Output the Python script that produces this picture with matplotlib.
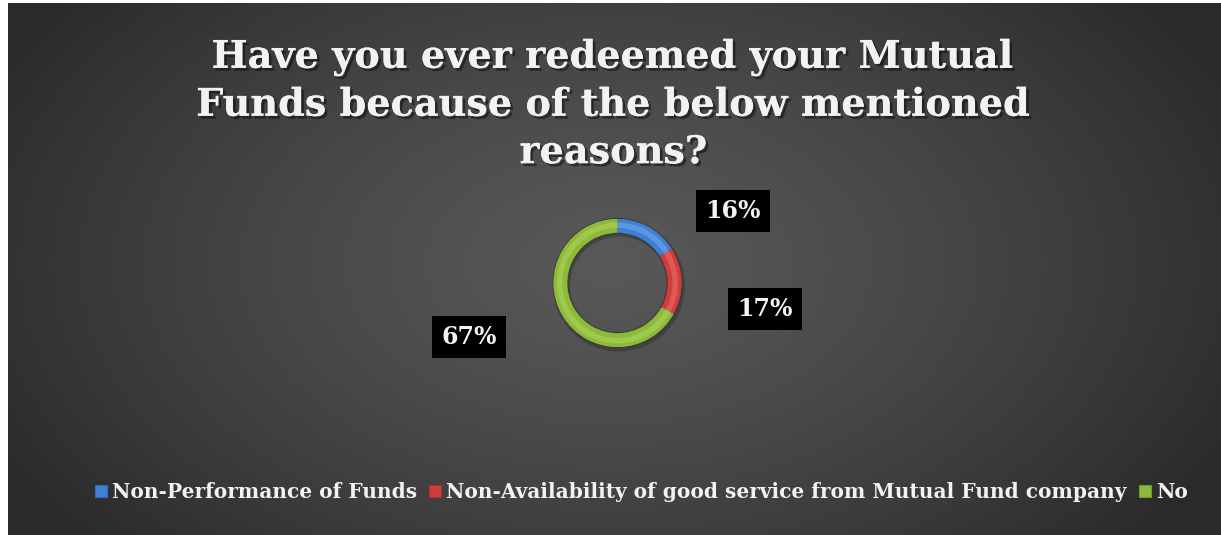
import numpy as np
import matplotlib.pyplot as plt
from matplotlib.patches import Patch
import matplotlib.patheffects as pe

# datos de la encuesta
categorias = ["Non-Performance of Funds",
              "Non-Availability of good service from Mutual Fund company",
              "No"]
valores = [16, 17, 67]
etiquetas = ["16%", "17%", "67%"]
titulo = "Have you ever redeemed your Mutual\nFunds because of the below mentioned\nreasons?"

colores = ["#3f80d4", "#d03e3c", "#8dba3b"]
colores_claros = ["#6ea8ee", "#ea6b67", "#add35a"]
colores_oscuros = ["#336db8", "#a8302e", "#739a2c"]

W, H = 1221, 535
fig = plt.figure(figsize=(W / 100, H / 100), dpi=100, facecolor="white")

# fondo con degradado radial
x0 = 8 / W
bg = fig.add_axes([x0, 0.0, 1 - x0, 1 - 3 / H])
bg.set_axis_off()
yy, xx = np.mgrid[0:532, 0:1213]
cx, cy = 600, 260
d = np.sqrt(((xx - cx) / 700.0) ** 2 + ((yy - cy) / 430.0) ** 2)
d = np.clip(d, 0, 1)
niv = 0.345 - (0.345 - 0.165) * d ** 1.3
img = np.dstack([niv, niv, niv])
bg.imshow(img, aspect="auto", extent=[0, 1, 0, 1], origin="upper")
bg.set_xlim(0, 1)
bg.set_ylim(0, 1)

sombra = [pe.withSimplePatchShadow(offset=(2, -2), shadow_rgbFace="black", alpha=0.45),
          pe.Normal()]
fig.text(0.5025, 1 - 105 / H, titulo, ha="center", va="center", color="#f2f2f2",
         fontsize=27.5, fontweight="bold", family="DejaVu Serif",
         linespacing=1.36, path_effects=sombra)

# anillo
cxp, cyp = 617.5, 283
ax = fig.add_axes([(cxp - 80) / W, 1 - (cyp + 80) / H, 160 / W, 160 / H])
ax.set_axis_off()
ax.set_aspect("equal")
px = 1 / 80.0  # un pixel en unidades de datos

# sombra suave bajo el anillo
ax.pie(valores, radius=66 * px, center=(1.5 * px, -2.5 * px), startangle=90,
       counterclock=False, colors=["black"] * 3,
       wedgeprops=dict(width=17 * px, linewidth=0, alpha=0.22))
ax.pie(valores, radius=64.5 * px, startangle=90, counterclock=False,
       colors=colores_oscuros,
       wedgeprops=dict(width=15 * px, linewidth=0.7, edgecolor="#3a3a3a"))
ax.pie(valores, radius=64 * px, startangle=90, counterclock=False,
       colors=colores, wedgeprops=dict(width=13.5 * px, linewidth=0))
ax.pie(valores, radius=60.5 * px, startangle=90, counterclock=False,
       colors=colores_claros, wedgeprops=dict(width=5.5 * px, linewidth=0, alpha=0.6))
ax.set_xlim(-1, 1)
ax.set_ylim(-1, 1)

# etiquetas de porcentaje
pos_etiquetas = [(733, 211), (765, 309), (469, 337)]
for txt, (lx, ly) in zip(etiquetas, pos_etiquetas):
    fig.text(lx / W, 1 - ly / H, txt, ha="center", va="center", color="#f2f2f2",
             fontsize=17, fontweight="bold", family="DejaVu Serif",
             bbox=dict(boxstyle="square,pad=0.38", facecolor="black", edgecolor="none"))

# leyenda
manejadores = [Patch(facecolor=c, edgecolor=o, linewidth=0.8)
               for c, o in zip(colores, colores_oscuros)]
ley = fig.legend(manejadores, categorias, loc="center", ncol=3,
                 bbox_to_anchor=(0.5 + 31 / W, 1 - 492 / H), frameon=False,
                 handlelength=0.6, handleheight=0.6, handletextpad=0.25,
                 columnspacing=0.6,
                 prop=dict(family="DejaVu Serif", weight="bold", size=14.5))
for t in ley.get_texts():
    t.set_color("#f2f2f2")

fig.savefig("out.png", dpi=100, facecolor=fig.get_facecolor())
